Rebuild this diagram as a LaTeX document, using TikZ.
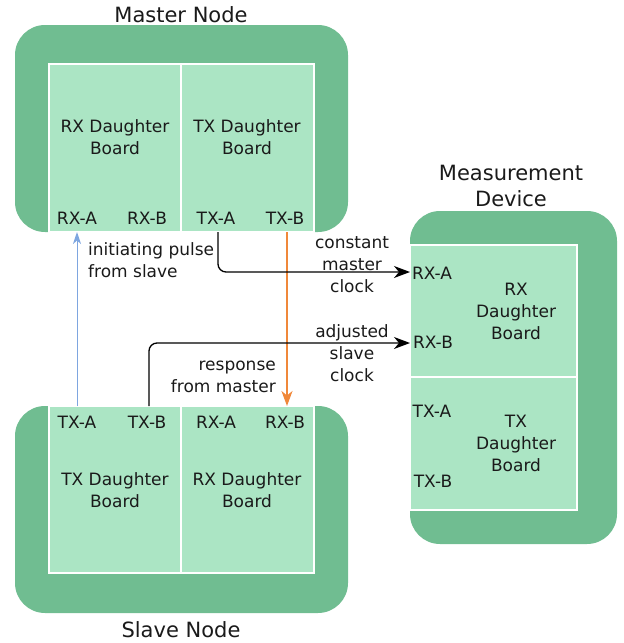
\documentclass[tikz,border=0pt]{standalone}
\usepackage{fontspec}
\setmainfont{DejaVu Sans}
\usetikzlibrary{arrows.meta}

\definecolor{casegreen}{HTML}{70BD91}
\definecolor{boardgreen}{HTML}{ABE5C4}
\definecolor{pulseblue}{HTML}{7EA6E0}
\definecolor{replyorange}{HTML}{F0883A}
\definecolor{inkgray}{HTML}{1A1A1A}

\tikzset{
  casebox/.style={fill=casegreen, draw=none, rounded corners=30pt,
    inner sep=0pt, outer sep=0pt, anchor=north west},
  boardbox/.style={fill=boardgreen, draw=white, line width=1.2pt,
    inner sep=0pt, outer sep=0pt, anchor=north west},
  txt/.style={font=\fontsize{17}{22}\selectfont, align=center,
    inner sep=0pt, text=inkgray},
  titletxt/.style={font=\fontsize{21}{26}\selectfont, align=center,
    inner sep=0pt, text=inkgray},
  link/.style={line width=1.3pt},
  bigtip/.style={-{Stealth[length=16pt,width=12pt,inset=5pt]}},
  midtip/.style={-{Stealth[length=15pt,width=11pt,inset=4.5pt]}},
  smalltip/.style={-{Stealth[length=12pt,width=8pt,inset=3.5pt]}},
}

\begin{document}
\begin{tikzpicture}[x=1pt,y=-1pt]
\useasboundingbox (0,0) rectangle (624,643);

% ---------------- Master node ----------------
\node[casebox, minimum width=333pt, minimum height=207pt] (master) at (15,25) {};
\node[boardbox, minimum width=132pt, minimum height=168pt] (mRX) at (49,64) {};
\node[boardbox, minimum width=133pt, minimum height=168pt] (mTX) at (181,64) {};
\node[titletxt] (masterTitle) at (181,15) {Master Node};
\node[txt] (mRXtxt) at (115,137) {RX Daughter\\Board};
\node[txt] (mTXtxt) at (247,137) {TX Daughter\\Board};
\node[txt] (mRXAtxt) at (77,218) {RX-A};
\node[txt] (mRXBtxt) at (147,218) {RX-B};
\node[txt] (mTXAtxt) at (216,218) {TX-A};
\node[txt] (mTXBtxt) at (285,218) {TX-B};
\coordinate (mRXA) at (77,232);
\coordinate (mTXA) at (218,232);
\coordinate (mTXB) at (287,232);

% ---------------- Slave node ----------------
\node[casebox, minimum width=333pt, minimum height=207pt] (slave) at (15,406) {};
\node[boardbox, minimum width=132pt, minimum height=167pt] (sTX) at (49,406) {};
\node[boardbox, minimum width=133pt, minimum height=167pt] (sRX) at (181,406) {};
\node[titletxt] (slaveTitle) at (181,630) {Slave Node};
\node[txt] (sTXtxt) at (115,490) {TX Daughter\\Board};
\node[txt] (sRXtxt) at (247,490) {RX Daughter\\Board};
\node[txt] (sTXAtxt) at (77,422) {TX-A};
\node[txt] (sTXBtxt) at (147,422) {TX-B};
\node[txt] (sRXAtxt) at (216,422) {RX-A};
\node[txt] (sRXBtxt) at (285,422) {RX-B};
\coordinate (sTXA) at (77,406);
\coordinate (sTXB) at (149,406);
\coordinate (sRXB) at (287,406);

% ---------------- Measurement device ----------------
\node[casebox, minimum width=207pt, minimum height=333pt] (meas) at (410,211) {};
\node[boardbox, minimum width=167pt, minimum height=132pt] (dRX) at (410,245) {};
\node[boardbox, minimum width=167pt, minimum height=133pt] (dTX) at (410,377) {};
\node[titletxt] (measTitle) at (511,186) {Measurement\\Device};
\node[txt] (dRXtxt) at (516,311) {RX\\Daughter\\Board};
\node[txt] (dTXtxt) at (516,443) {TX\\Daughter\\Board};
\node[txt] (dRXAtxt) at (432,273) {RX-A};
\node[txt] (dRXBtxt) at (433,342) {RX-B};
\node[txt] (dTXAtxt) at (432,411) {TX-A};
\node[txt] (dTXBtxt) at (433,481) {TX-B};
\coordinate (dRXA) at (410,272);
\coordinate (dRXB) at (410,343);

% ---------------- Connections ----------------
\draw[line width=1pt, pulseblue, smalltip] (sTXA) -- (mRXA);
\draw[line width=1.5pt, replyorange, midtip] (mTXB) -- (sRXB);
\draw[link, black, rounded corners=8pt, bigtip] (mTXA) |- (dRXA);
\draw[link, black, rounded corners=8pt, bigtip] (sTXB) |- (dRXB);

% ---------------- Connection labels ----------------
\node[txt, align=left, anchor=west] (pulseLbl) at (88,260) {initiating pulse\\from slave};
\node[txt] (clockLbl) at (352,265) {constant\\master\\clock};
\node[txt] (slaveClockLbl) at (352,353) {adjusted\\slave\\clock};
\node[txt, align=right, anchor=east] (respLbl) at (276,377) {response\\from master};
\end{tikzpicture}
\end{document}
